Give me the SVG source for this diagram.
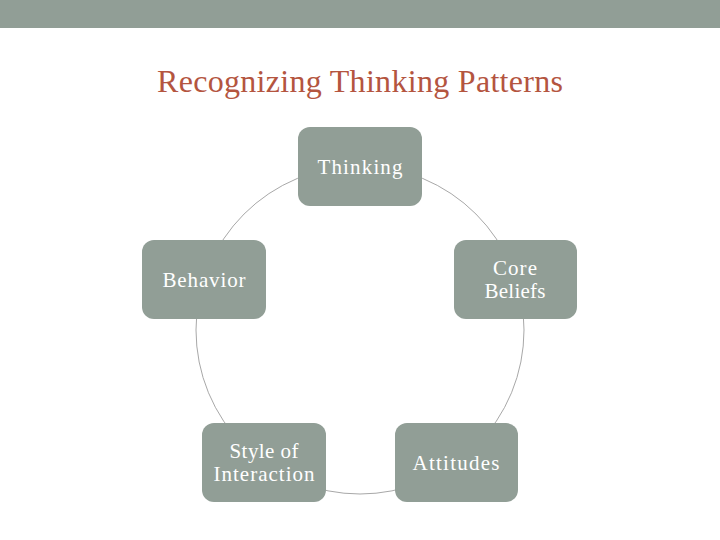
<svg xmlns="http://www.w3.org/2000/svg" width="720" height="540" viewBox="0 0 720 540">
<style>
.node{fill:#919e96;}
.lbl{font-family:"Liberation Serif","DejaVu Serif",serif;font-size:21px;fill:#ffffff;text-anchor:middle;}
.conn{fill:none;stroke:#a8a8a8;stroke-width:1;}
</style>
<rect x="0" y="0" width="720" height="540" fill="#ffffff"/>
<rect x="0" y="0" width="720" height="28" fill="#919e96"/>
<text x="360" y="92" font-family="Liberation Serif, DejaVu Serif, serif" font-size="32" fill="#b4553f" text-anchor="middle" textLength="406" lengthAdjust="spacing">Recognizing Thinking Patterns</text>
<g id="connectors">
<circle class="conn" cx="360" cy="330" r="164"/>
</g>
<g id="thinking">
<rect class="node" x="298" y="127" width="124" height="79" rx="12"/>
<text class="lbl" x="360" y="174" textLength="85" lengthAdjust="spacing">Thinking</text>
</g>
<g id="behavior">
<rect class="node" x="142" y="240" width="124" height="79" rx="12"/>
<text class="lbl" x="204" y="287" textLength="83" lengthAdjust="spacing">Behavior</text>
</g>
<g id="core-beliefs">
<rect class="node" x="454" y="240" width="123" height="79" rx="12"/>
<text class="lbl" x="515" y="275" textLength="44" lengthAdjust="spacing">Core</text>
<text class="lbl" x="515" y="298" textLength="61" lengthAdjust="spacing">Beliefs</text>
</g>
<g id="style-of-interaction">
<rect class="node" x="202" y="423" width="124" height="79" rx="12"/>
<text class="lbl" x="264" y="458" textLength="69" lengthAdjust="spacing">Style of</text>
<text class="lbl" x="264" y="481" textLength="101" lengthAdjust="spacing">Interaction</text>
</g>
<g id="attitudes">
<rect class="node" x="395" y="423" width="123" height="79" rx="12"/>
<text class="lbl" x="456" y="470" textLength="87" lengthAdjust="spacing">Attitudes</text>
</g>
</svg>
